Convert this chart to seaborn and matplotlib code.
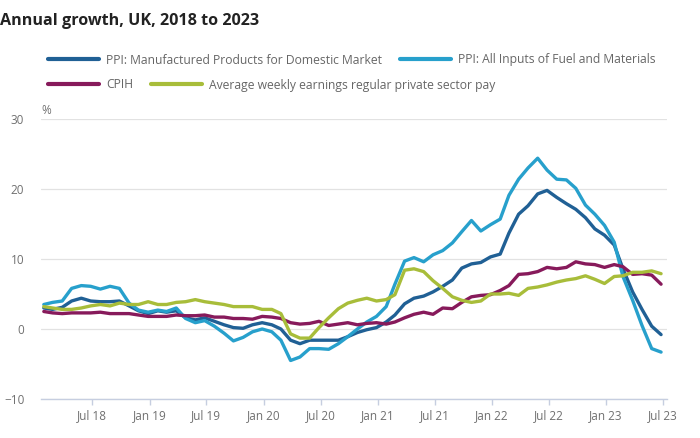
import numpy as np
import pandas as pd
import matplotlib.pyplot as plt
import seaborn as sns

# monthly data, Feb 2018 to Jul 2023 (annual growth, %)
months = pd.date_range('2018-02-01', periods=66, freq='MS')

ppi_output = [3.0, 2.8, 3.1, 4.0, 4.4, 4.0, 3.9, 3.9, 4.0, 3.3, 2.6,
              2.2, 2.6, 2.4, 2.6, 1.6, 1.3, 1.6, 1.1, 0.6, 0.2, 0.1, 0.6,
              0.9, 0.6, 0.0, -1.6, -2.1, -1.6, -1.6, -1.6, -1.6, -1.1, -0.5, -0.1,
              0.2, 1.0, 2.0, 3.6, 4.4, 4.7, 5.3, 6.1, 7.0, 8.7, 9.3, 9.5,
              10.3, 10.7, 13.7, 16.4, 17.6, 19.3, 19.8, 18.8, 17.9, 17.1, 15.9, 14.3,
              13.4, 12.0, 8.6, 5.3, 2.8, 0.4, -0.8]

ppi_input = [3.5, 3.8, 4.0, 5.8, 6.2, 6.1, 5.7, 6.1, 5.8, 3.7, 2.7,
             2.4, 2.7, 2.5, 3.0, 1.5, 0.9, 1.2, 0.4, -0.6, -1.7, -1.2, -0.4,
             0.0, -0.4, -1.6, -4.5, -4.0, -2.8, -2.8, -2.9, -2.1, -1.1, 0.0, 1.0,
             1.8, 3.2, 6.4, 9.7, 10.2, 9.6, 10.6, 11.2, 12.3, 13.9, 15.5, 14.0,
             14.9, 15.7, 19.1, 21.4, 23.0, 24.4, 22.7, 21.4, 21.3, 20.1, 17.7, 16.4,
             14.8, 12.4, 7.5, 4.1, 0.5, -2.8, -3.3]

cpih = [2.5, 2.3, 2.2, 2.3, 2.3, 2.3, 2.4, 2.2, 2.2, 2.2, 2.0,
        1.8, 1.8, 1.8, 2.0, 1.9, 1.9, 2.0, 1.7, 1.7, 1.5, 1.5, 1.4,
        1.8, 1.7, 1.5, 0.9, 0.7, 0.8, 1.1, 0.5, 0.7, 0.9, 0.6, 0.8,
        0.9, 0.7, 1.0, 1.6, 2.1, 2.4, 2.1, 3.0, 2.9, 3.8, 4.6, 4.8,
        4.9, 5.5, 6.2, 7.8, 7.9, 8.2, 8.8, 8.6, 8.8, 9.6, 9.3, 9.2,
        8.8, 9.2, 8.9, 7.8, 7.9, 7.7, 6.4]

earnings = [3.2, 3.0, 2.8, 2.8, 3.0, 3.3, 3.5, 3.3, 3.7, 3.5, 3.5,
            3.9, 3.5, 3.5, 3.8, 3.9, 4.2, 3.9, 3.7, 3.5, 3.2, 3.2, 3.2,
            2.8, 2.8, 2.2, -0.7, -1.3, -1.3, 0.2, 1.6, 2.9, 3.7, 4.1, 4.4,
            4.0, 4.2, 4.9, 8.4, 8.6, 8.2, 6.9, 5.8, 4.6, 4.1, 3.8, 4.0,
            5.0, 5.0, 5.1, 4.8, 5.8, 6.0, 6.3, 6.7, 7.0, 7.2, 7.6, 7.1,
            6.5, 7.5, 7.6, 8.1, 8.1, 8.3, 7.9]

series_names = ['PPI: Manufactured Products for Domestic Market',
                'PPI: All Inputs of Fuel and Materials',
                'CPIH',
                'Average weekly earnings regular private sector pay']
colors = ['#206095', '#27a0cc', '#871a5b', '#a8bd3a']

df = pd.DataFrame({
    'date': list(months) * 4,
    'value': ppi_output + ppi_input + cpih + earnings,
    'series': np.repeat(series_names, len(months)),
})

sns.set_style('white')
plt.rcParams['font.family'] = ['Open Sans', 'DejaVu Sans']

fig = plt.figure(figsize=(7, 4.38), dpi=100)
ax = fig.add_axes([41 / 700, 1 - 399 / 438, 626 / 700, 280 / 438])

sns.lineplot(data=df, x='date', y='value', hue='series', hue_order=series_names,
             palette=dict(zip(series_names, colors)), linewidth=2.4, ax=ax, legend=False)

# axes styling
ax.set_ylim(-10, 30)
ax.set_yticks([-10, 0, 10, 20, 30])
ax.set_xlim(pd.Timestamp('2018-01-23'), pd.Timestamp('2023-07-20'))
tick_dates = pd.date_range('2018-07-01', '2023-07-01', freq='6MS') + pd.Timedelta(days=5)
ax.set_xticks(tick_dates)
ax.set_xticklabels([d.strftime('%b %y') for d in tick_dates])
ax.set_xlabel('')
ax.set_ylabel('')
ax.grid(axis='y', color='#e2e2e2', linewidth=0.9)
ax.grid(axis='x', visible=False)
for side in ['top', 'right', 'left']:
    ax.spines[side].set_visible(False)
ax.spines['bottom'].set_color('#c6cee0')
ax.spines['bottom'].set_linewidth(1)
ax.tick_params(axis='y', length=0, pad=12, labelsize=8.5, labelcolor='#707070')
ax.tick_params(axis='x', length=4, width=1, color='#c6cee0', pad=3,
               labelsize=8.5, labelcolor='#707070', bottom=True)

fig.text(41 / 700, 1 - 111 / 438, '%', fontsize=8.5, color='#707070', va='center', ha='left')
fig.text(0, 1 - 21 / 438, 'Annual growth, UK, 2018 to 2023', fontsize=11.6,
         fontweight='bold', color='#222222', va='center', ha='left')

# legend in two flowing rows
handles = [plt.Line2D([], [], color=c, linewidth=3) for c in colors]
rows = [(handles[:2], series_names[:2], 60), (handles[2:], series_names[2:], 85)]
for h, labels, y in rows:
    leg = fig.legend(h, labels, loc='center left', bbox_to_anchor=(48 / 700, 1 - y / 438),
                     ncol=2, frameon=False, fontsize=8.7, handlelength=4.2,
                     handletextpad=0.6, columnspacing=1.5, borderpad=0, borderaxespad=0)
    for t in leg.get_texts():
        t.set_color('#666666')

fig.savefig('out.png', dpi=100)
